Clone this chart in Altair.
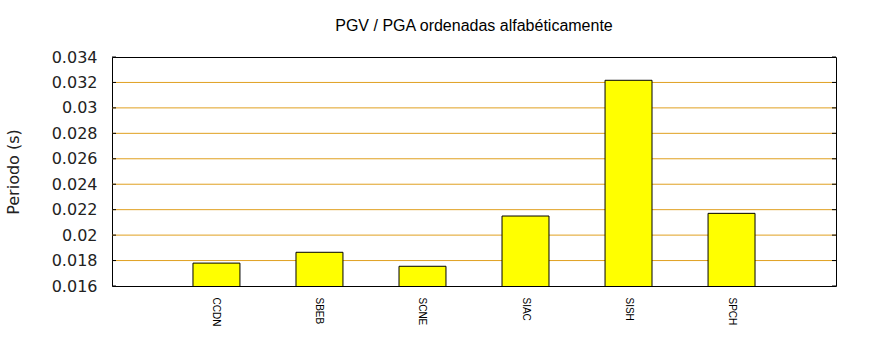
import altair as alt
import pandas as pd

stations = ["CCDN", "SBEB", "SCNE", "SIAC", "SISH", "SPCH"]
ratios = [0.01780, 0.01865, 0.01755, 0.02150, 0.03217, 0.02171]
y_ticks = [0.016, 0.018, 0.020, 0.022, 0.024, 0.026, 0.028, 0.030, 0.032, 0.034]

W, H = 724, 229
GRID = "#E0A020"

df = pd.DataFrame({"station": stations, "ratio": ratios})
ticks_df = pd.DataFrame({"v": y_ticks})

yscale = alt.Scale(domain=[0.016, 0.034], zero=False, nice=False)

yaxis = alt.Axis(
    title="Periodo (s)", values=y_ticks, format=".3~f",
    labelFont="DejaVu Sans", labelFontSize=16, labelColor="#222222",
    labelPadding=15, ticks=False, domain=False, labelOverlap=False,
    labelBound=False, labelFlush=False, grid=False,
    titleFont="DejaVu Sans", titleFontSize=16, titleFontWeight="normal",
    titleColor="#222222", titleX=-99, titleY=H / 2, titleAlign="center",
    titleBaseline="middle", titleAngle=-90,
)

grid = alt.Chart(ticks_df).transform_filter(
    "datum.v > 0.0161 && datum.v < 0.0339"
).mark_rule(color=GRID, strokeWidth=1).encode(
    y=alt.Y("v:Q", scale=yscale, axis=yaxis, title="Periodo (s)"),
    x=alt.value(0), x2=alt.value(W)
)

bars = alt.Chart(df).mark_bar(
    color="#FFFF00", stroke="black", strokeWidth=1, clip=True
).encode(
    x=alt.X(
        "station:N",
        sort=stations,
        scale=alt.Scale(paddingInner=0.544, paddingOuter=0.786),
        axis=alt.Axis(
            title=None, labelAngle=90, labelFont="Liberation Sans", labelFontSize=10,
            labelColor="black", ticks=False, domain=False, labelPadding=11,
            labelOverlap=False, grid=False,
        ),
    ),
    y=alt.Y("ratio:Q", scale=yscale, axis=yaxis, title="Periodo (s)"),
)

left_ticks = alt.Chart(ticks_df).mark_rule(color="black", strokeWidth=1).encode(
    y=alt.Y("v:Q", scale=yscale, axis=yaxis, title="Periodo (s)"),
    x=alt.value(0), x2=alt.value(4)
)
right_ticks = alt.Chart(ticks_df).mark_rule(color="black", strokeWidth=1).encode(
    y=alt.Y("v:Q", scale=yscale, axis=yaxis, title="Periodo (s)"),
    x=alt.value(W - 4), x2=alt.value(W)
)

chart = alt.layer(grid, bars, left_ticks, right_ticks).properties(
    width=W,
    height=H,
    autosize=alt.AutoSizeParams(type="none"),
    padding={"left": 112, "top": 57, "right": 870 - 112 - W, "bottom": 350 - 57 - H},
    title=alt.Title(
        "PGV / PGA ordenadas alfabéticamente",
        font="Liberation Sans", fontSize=16, fontWeight="normal", color="black",
        anchor="middle", offset=15,
    ),
).configure(
    background="white", view=alt.ViewConfig(stroke="black", strokeWidth=1)
)

chart.save("out.html", embed_options={"renderer": "svg", "actions": False})
